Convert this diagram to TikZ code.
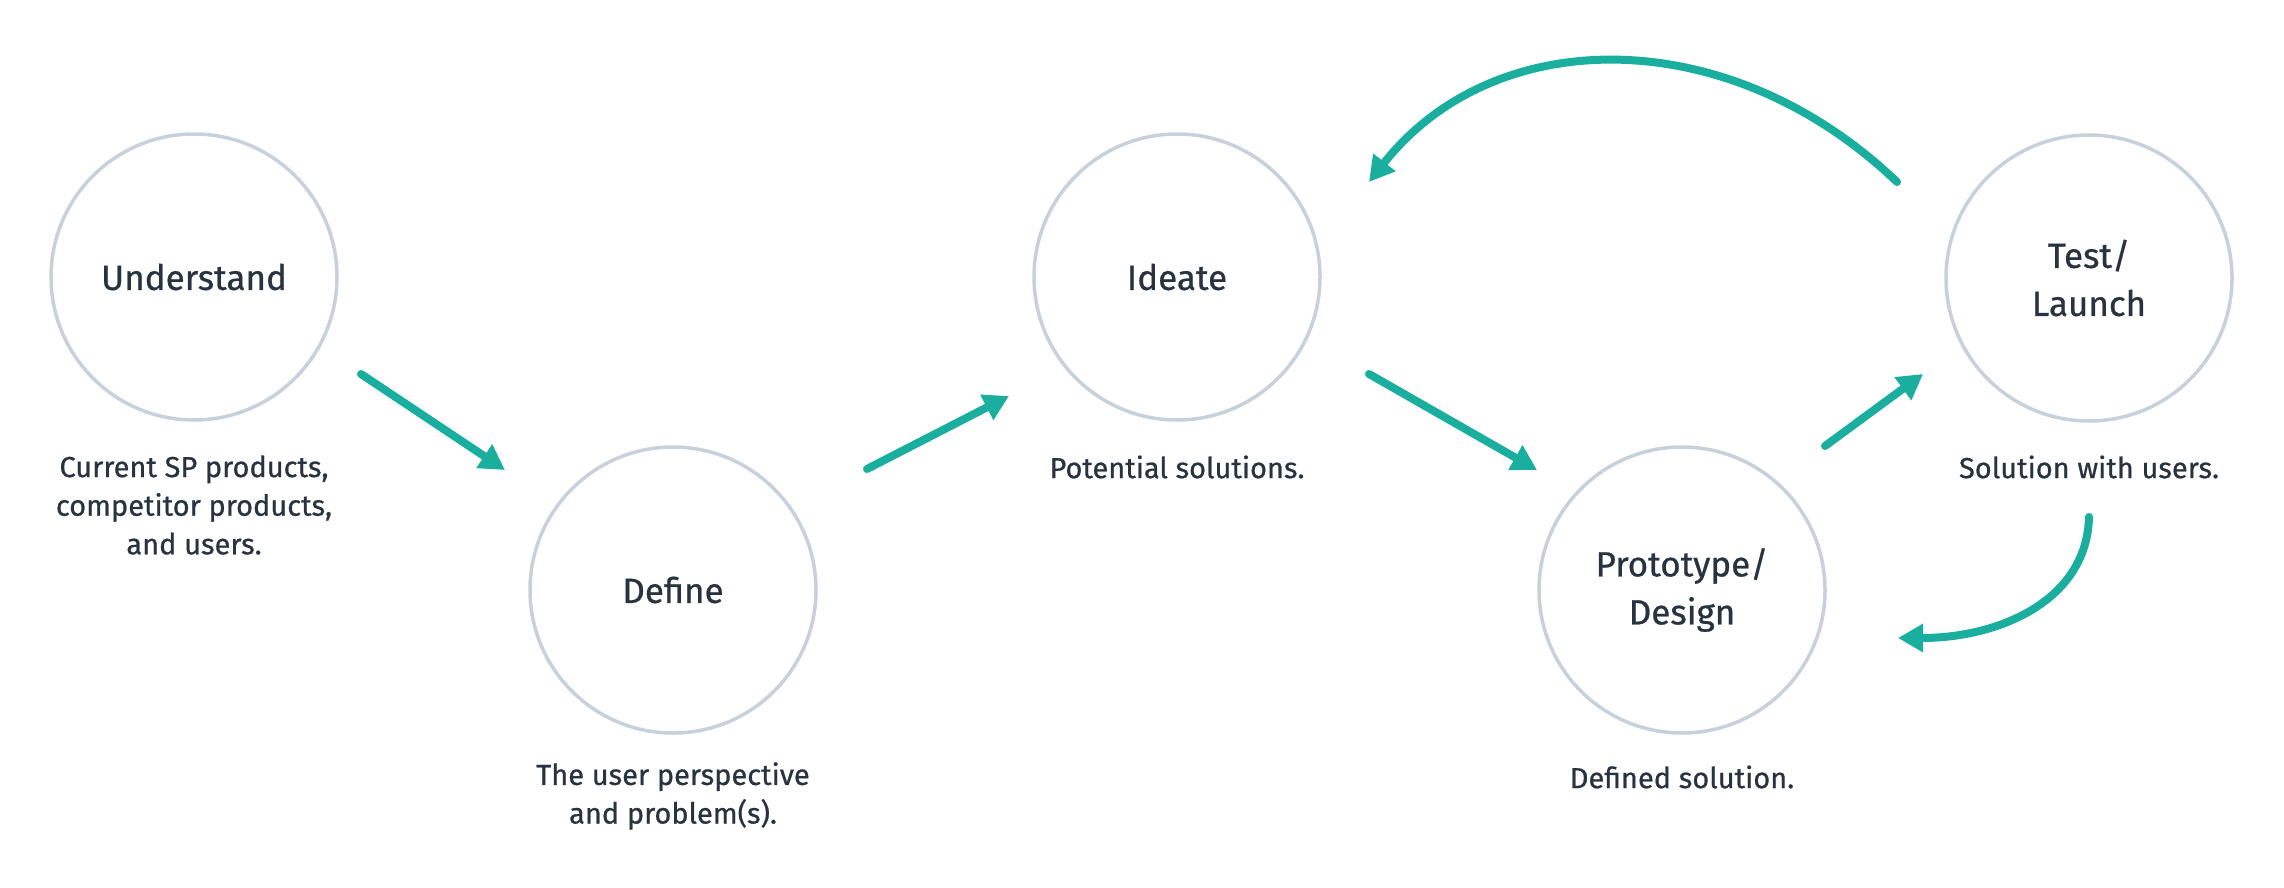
\documentclass[tikz,border=0pt]{standalone}
\usepackage{fontspec}
\setmainfont{Fira Sans}[FakeBold=0.7]
\usetikzlibrary{arrows.meta}
\definecolor{ring}{HTML}{C7D1DB}
\definecolor{teal}{HTML}{1AAE9F}
\definecolor{ink}{HTML}{27333F}
\tikzset{
  stage/.style={circle, draw=ring, line width=3.5pt, minimum size=286pt, inner sep=0pt,
    text=ink, align=center, font=\fontsize{35}{48}\selectfont},
  lbl/.style={text=ink, align=center, inner sep=0pt, font=\fontsize{29}{38.6}\selectfont},
  flow/.style={draw=teal, line width=8pt, line cap=round,
    -{Triangle[length=25pt,width=27pt]}}
}
\begin{document}
\begin{tikzpicture}[x=1pt,y=-1pt]
\useasboundingbox (0,0) rectangle (2284,888);
\node[stage] (und) at (194,277) {Understand};
\node[stage] (def) at (673,590) {Define};
\node[stage] (ide) at (1177,277) {Ideate};
\node[stage] (pro) at (1682,590) {Prototype/\\Design};
\node[stage] (tes) at (2089,278) {Test/\\Launch};

\node[lbl] (undl) at (194,505) {Current SP products,\\competitor products,\\and users.};
\node[lbl] (defl) at (673,796) {The user perspective\\and problem(s).};
\node[lbl] (idel) at (1177,467) {Potential solutions.};
\node[lbl] (prol) at (1682,777) {Defined solution.};
\node[lbl] (tesl) at (2089,467) {Solution with users.};

\coordinate (a1s) at (361,374); \coordinate (a1e) at (505,470);
\coordinate (a2s) at (867,469); \coordinate (a2e) at (1009,396);
\coordinate (a3s) at (1369,374); \coordinate (a3e) at (1537,470);
\coordinate (a4s) at (1825,446); \coordinate (a4e) at (1923,374);
\coordinate (a5s) at (1897,182); \coordinate (a5e) at (1369,182);
\coordinate (a6s) at (2089,517); \coordinate (a6e) at (1898,638);

\draw[flow] (a1s) -- (a1e);
\draw[flow] (a2s) -- (a2e);
\draw[flow] (a3s) -- (a3e);
\draw[flow] (a4s) -- (a4e);
\draw[flow] (a5s) .. controls (1730,22) and (1495,22) .. (a5e);
\draw[flow] (a6s) .. controls (2087,600) and (2000,638) .. (a6e);
\end{tikzpicture}
\end{document}
